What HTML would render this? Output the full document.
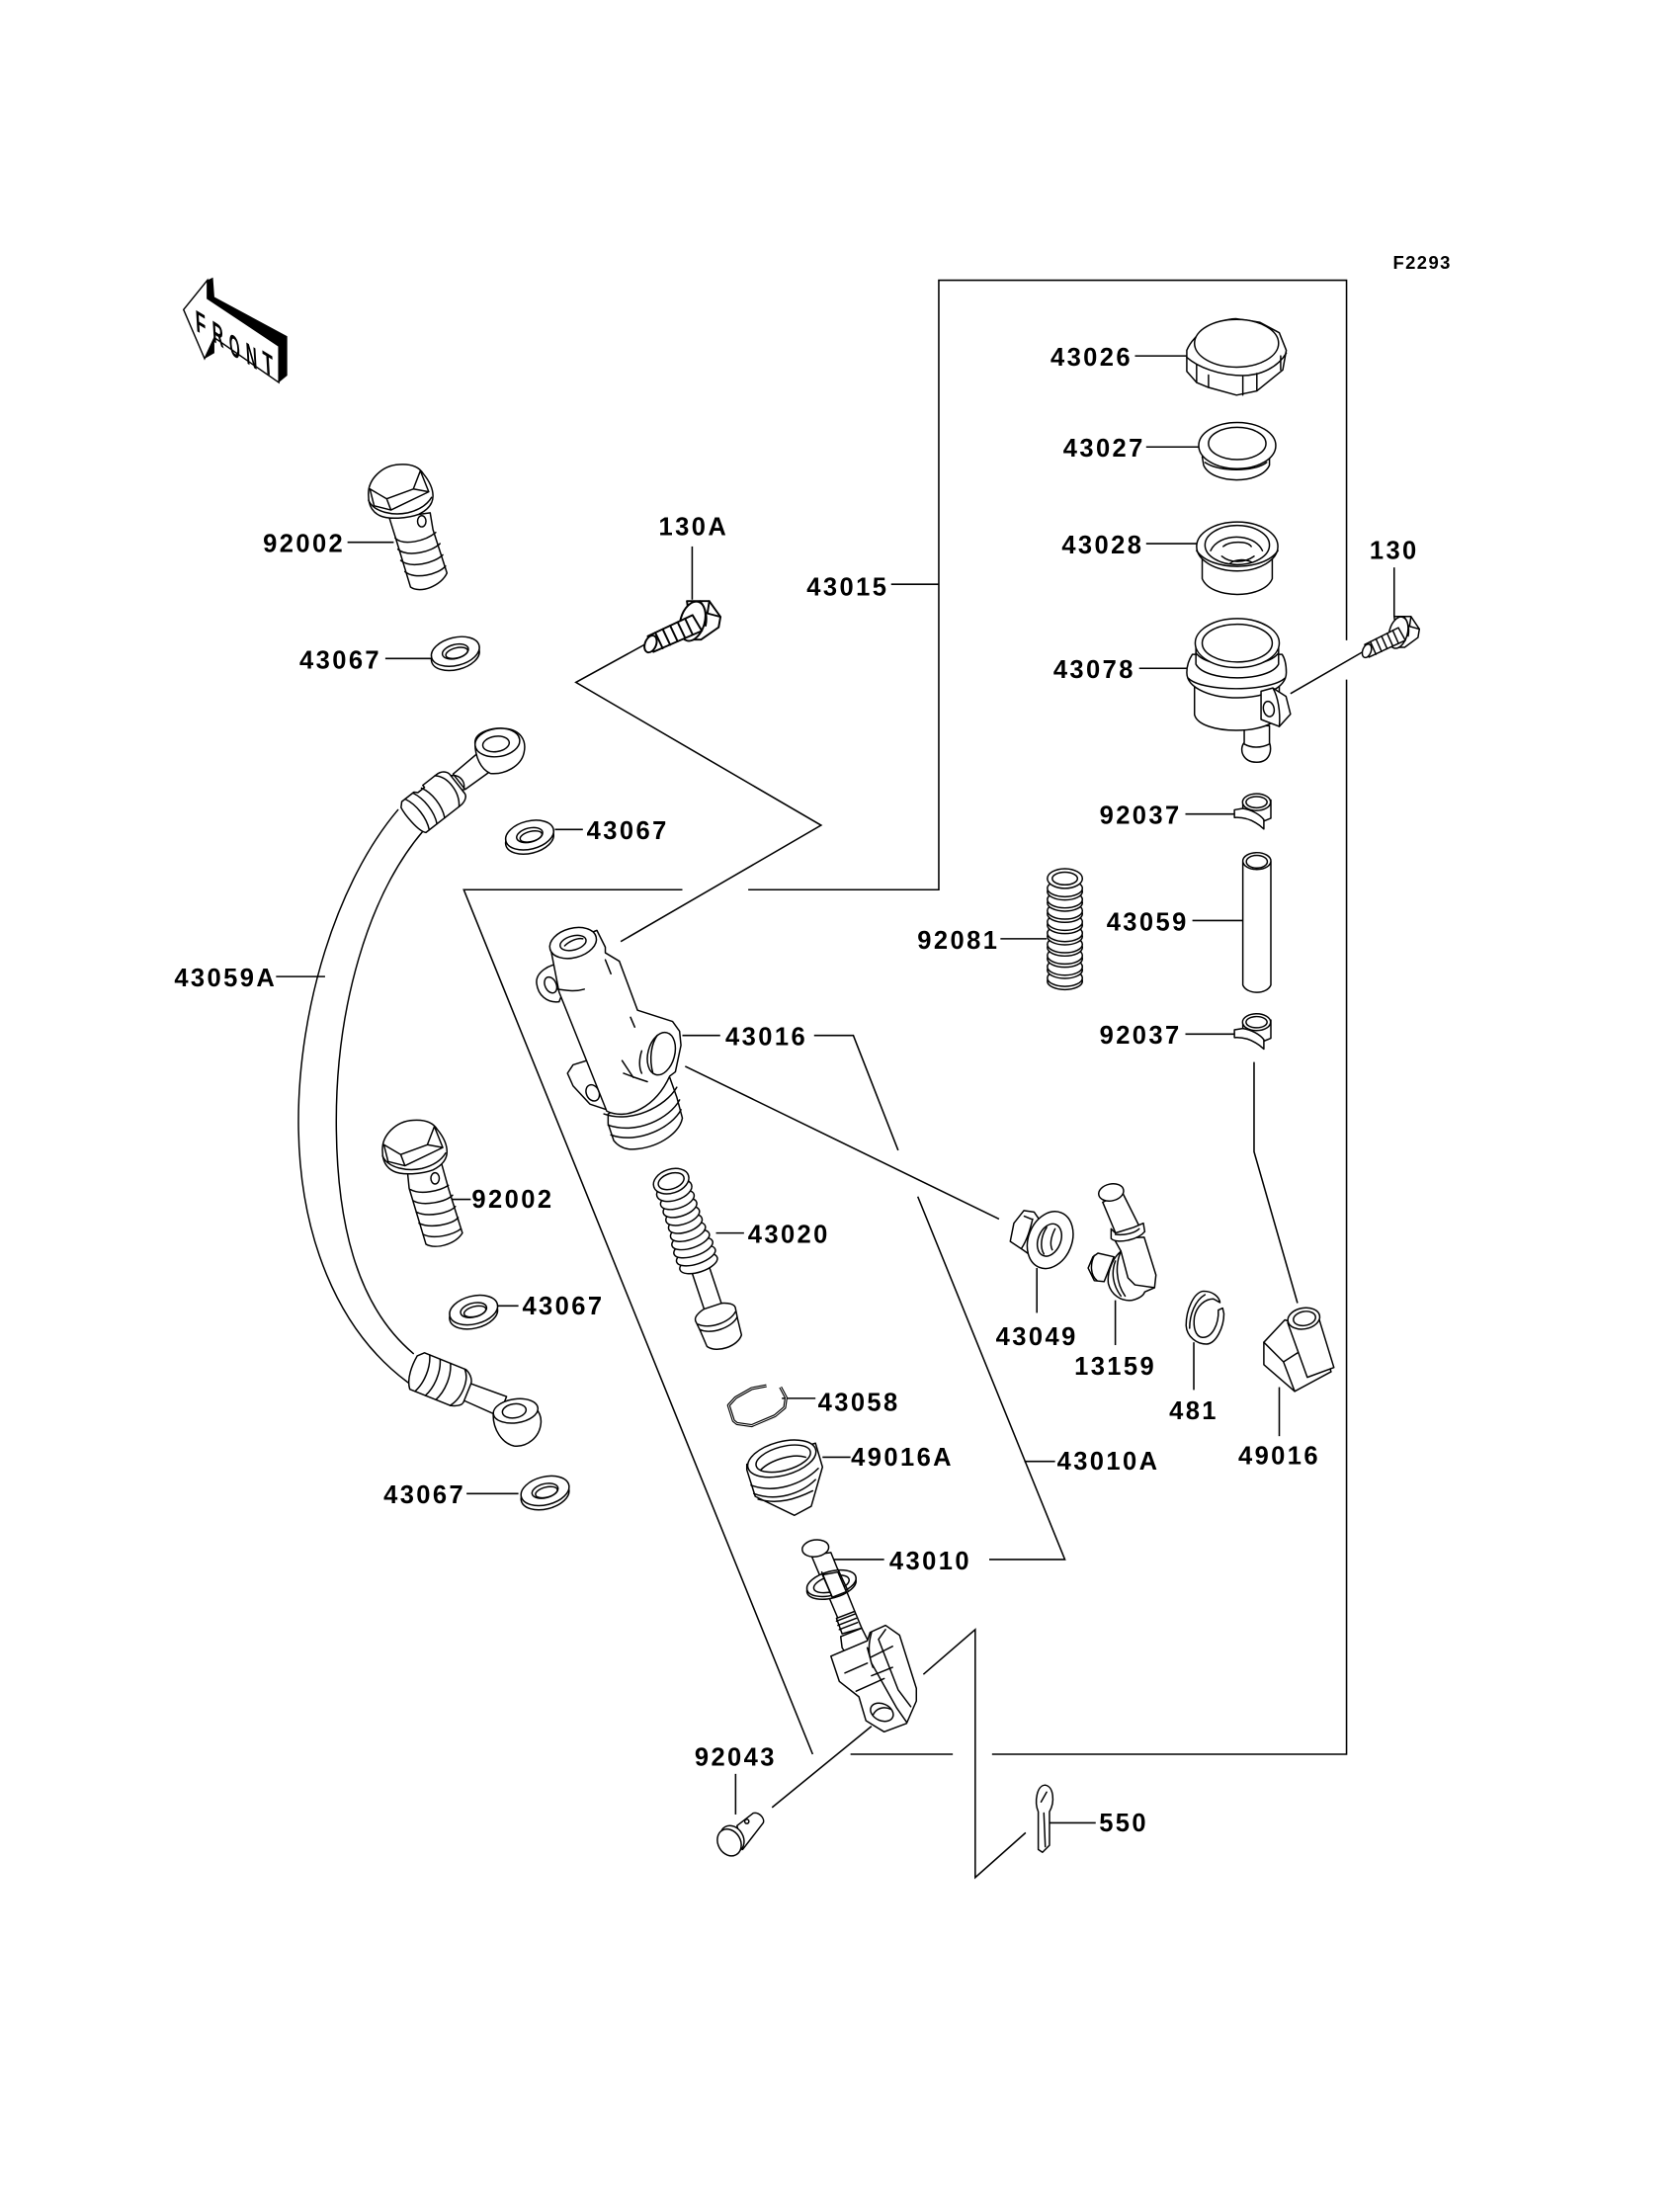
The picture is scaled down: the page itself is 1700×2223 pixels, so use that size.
<!DOCTYPE html>
<html><head><meta charset="utf-8"><style>
html,body{margin:0;padding:0;background:#fff;width:1700px;height:2223px;overflow:hidden}
svg{display:block}
.p *{fill:#fff;stroke:#000;stroke-width:1.05;stroke-linejoin:round;stroke-linecap:round}
.p .n{fill:none}
.l{fill:none;stroke:#000;stroke-width:1.1}
text{font-family:"Liberation Sans",sans-serif;font-weight:bold;font-size:18px;letter-spacing:1.7px;text-anchor:middle;fill:#000;stroke:none}
</style></head><body>
<svg width="1700" height="2223" viewBox="0 0 1199 1568" preserveAspectRatio="none" xmlns="http://www.w3.org/2000/svg">
<defs>
<g id="washer" class="p"><ellipse cx="0" cy="2" rx="17.5" ry="10" transform="rotate(-14 0 2)"/><ellipse cx="0" cy="-1" rx="17.5" ry="10" transform="rotate(-14 0 -1)"/><ellipse cx="0" cy="-1" rx="9.5" ry="5" transform="rotate(-14 0 -1)"/><ellipse class="n" cx="1" cy="0" rx="8" ry="3.6" transform="rotate(-14 1 0)"/></g>
<g id="head" class="p">
<path d="M-22,2C-23,-10 -12,-20 0,-20.5C8,-21 14,-19 17,-14C22,-8 24,-3 24,2C24,8 20,12 14,15C6,18 -8,19 -14,16C-20,13 -22,8 -22,2Z"/>
<path class="n" d="M-22,5C-18,14 -4,16 6,14C14,12 20,8 23,3"/>
<path class="n" d="M-21,-3L-9,4L10,-3L15,-16M-21,-3L-18,9L-6,12L21,-1L15,-16M-9,4L-6,12M10,-3L21,-1"/>
</g>
<g id="sbolt" class="p">
<path d="M22,-24L34,-24L40,-15L39,-9L29.5,-2L25,-2Z"/>
<path class="n" d="M29,-24C32,-20 33,-15 32,-10M34,-24L33,-17L40,-15"/>
<ellipse cx="25" cy="-12.5" rx="6.5" ry="11.5" transform="rotate(15 25 -12.5)"/>
<path d="M1,-4L25,-16L30,-7L4,5Z"/>
<path class="n" d="M5,-6L9,3M9,-8L13,1M13,-10L17,-1M17,-12L21,-3M21,-14L25,-5"/>
<ellipse cx="2.5" cy="0.5" rx="3" ry="5" transform="rotate(20 2.5 .5)"/>
</g>
<g id="clip" class="p">
<path d="M6,7V13L21,20L26,18V5Z"/>
<path d="M0,12L6,11C12,12 18,15 21,19V25.7C15,20 8,17 0,17.5Z"/>
<ellipse cx="15.8" cy="6.5" rx="10" ry="6"/>
<ellipse cx="15.8" cy="6.5" rx="7.5" ry="4"/>
</g>
<g id="coil" class="p"><ellipse cx="0" cy="2.3" rx="12.5" ry="6"/><ellipse cx="0" cy="0" rx="12.5" ry="6"/></g>
</defs>

<!-- leader and bracket lines -->
<g class="l">
<path d="M487,635H331L580,1252"/>
<path d="M534,635H670V200H961V457"/>
<path d="M961,485V1252H708"/>
<path d="M680,1252H607"/>
<path d="M636,417H670"/>
<path d="M462,459L411,487L586,589L443,672"/>
<path d="M494,390V428"/>
<path d="M995,405V440"/>
<path d="M973,465L921,495"/>
<path d="M487,739H514"/>
<path d="M581,739H609L641,821"/>
<path d="M655,854L760,1113H706"/>
<path d="M731,1043H753"/>
<path d="M593,1113H631"/>
<path d="M489,761L713,870"/>
<path d="M740,905V937"/>
<path d="M796,928V960"/>
<path d="M852,958V992"/>
<path d="M913,990V1025"/>
<path d="M895,758V822L926,930"/>
<path d="M846,581H882"/>
<path d="M846,738H881"/>
<path d="M851,657H887"/>
<path d="M714,670H747"/>
<path d="M810,254H848"/>
<path d="M818,319H856"/>
<path d="M818,388H854"/>
<path d="M813,477H848"/>
<path d="M248,387H281"/>
<path d="M275,470H308"/>
<path d="M396,592H416"/>
<path d="M197,697H232"/>
<path d="M318,856H336"/>
<path d="M345,932H370"/>
<path d="M333,1066H370"/>
<path d="M511,880H531"/>
<path d="M558,998H582"/>
<path d="M587,1040H607"/>
<path d="M525,1266V1295"/>
<path d="M551,1290L622,1232"/>
<path d="M659,1195L696,1163V1340L732,1308"/>
<path d="M748,1301H782"/>
</g>

<!-- FRONT arrow -->
<g>
<path d="M148,200L152,198L153,212L205,240V268L199,273V247L148,213Z" fill="#000"/>
<path d="M146,241L153,241L153,252L146,256Z" fill="#000"/>
<path d="M131,221L148,200V213L199,247V273L153,241L146,256Z" fill="#fff" stroke="#000" stroke-width="1"/>
<text transform="matrix(.55,.33,.06,1,140,236)" style="font-size:22px;letter-spacing:0;text-anchor:start">F</text>
<text transform="matrix(.5,.33,.06,1,152,243.5)" style="font-size:22px;letter-spacing:0;text-anchor:start">R</text>
<text transform="matrix(.45,.33,.06,1,164,252)" style="font-size:22px;letter-spacing:0;text-anchor:start">O</text>
<text transform="matrix(.5,.33,.06,1,176,259)" style="font-size:22px;letter-spacing:0;text-anchor:start">N</text>
<text transform="matrix(.55,.33,.06,1,188,265)" style="font-size:22px;letter-spacing:0;text-anchor:start">T</text>
</g>

<!-- 92002 top -->
<g class="p">
<path d="M278,370L283,386L293,419C300,424 315,418 319,409L309,378L307,366Z"/>
<path class="n" d="M282,384C288,390 304,386 311,380M284,392C291,398 308,394 314,388M286,400C293,406 310,402 316,396M289,408C296,414 313,410 318,404"/>
<ellipse cx="301" cy="372" rx="3" ry="4"/>
</g>
<use href="#head" x="285" y="352"/>
<use href="#washer" x="325" y="466"/>
<use href="#washer" x="378" y="597"/>
<use href="#washer" x="338" y="936"/>
<use href="#washer" x="389" y="1065"/>

<!-- hose -->
<g class="p">
<path class="n" d="M284,578C240,630 213,720 213,800C213,880 240,950 293,988"/>
<path class="n" d="M302,593C262,640 240,720 240,800C240,880 258,935 295,966"/>
<g transform="translate(293,585) rotate(-38)">
<path d="M44,-7L70,-8V8L44,7Z"/>
<path d="M0,-11L3,-14H14L16,-12H22V-14H34C40,-14 42,-10 42,-8V9C42,12 38,14 34,14H3C-1,10 -1,-6 0,-11Z"/>
<path class="n" d="M6,-14C10,-6 10,6 6,14M13,-14C17,-6 17,6 13,14M20,-13C24,-6 24,6 20,14M33,-14C40,-8 40,6 33,14M42,-7C48,-4 48,4 42,7"/>
</g>
<path d="M339,530C339,522 352,519 361,520C371,521 376,528 374,537C372,547 360,553 350,552C343,549 339,540 339,530Z"/>
<ellipse cx="355" cy="530" rx="16" ry="10" transform="rotate(-8 355 530)"/>
<ellipse cx="354" cy="531" rx="9.5" ry="5.5" transform="rotate(-8 354 531)"/>
<g transform="translate(294,977) rotate(22)">
<path d="M42,-6L70,-7V8L42,7Z"/>
<path d="M0,-10L4,-14H36C41,-12 43,-8 43,-6V8C43,11 39,13 35,14H4C-1,8 -1,-3 0,-10Z"/>
<path class="n" d="M8,-14C12,-6 12,6 8,14M16,-14C20,-6 20,6 16,14M24,-14C28,-6 28,6 24,14M35,-14C41,-8 41,6 35,14"/>
</g>
<path d="M352,1010C352,1003 361,999 371,999C380,1000 387,1008 386,1016C385,1026 376,1033 367,1032C358,1030 352,1020 352,1010Z"/>
<ellipse cx="368" cy="1007" rx="16" ry="8.5" transform="rotate(-8 368 1007)"/>
<ellipse cx="367" cy="1007" rx="8.5" ry="5" transform="rotate(-8 367 1007)"/>
</g>

<!-- 92002 lower -->
<g class="p">
<path d="M291,838L292,848L304,888C311,892 325,888 330,880L320,848L315,830Z"/>
<path class="n" d="M293,849C300,853 314,850 320,846M295,857C302,861 318,858 323,853M297,865C305,869 321,866 325,861M299,873C307,877 323,874 327,869M302,881C310,885 324,881 329,877"/>
<ellipse cx="310.5" cy="841" rx="3" ry="4"/>
</g>
<use href="#head" x="295" y="820"/>

<!-- 130A and 130 bolts -->
<use href="#sbolt" transform="translate(461,459) scale(1.33,1.25)"/>
<use href="#sbolt" transform="translate(973,464)"/>

<!-- master cylinder -->
<g class="p">
<path d="M409,760L405,766L409,775L421,788L433,792L440,780L425,755Z"/>
<ellipse cx="423" cy="780" rx="4.5" ry="6" transform="rotate(-25 423 780)"/>
<path d="M400,688C392,688 382,694 383,702C384,710 390,716 399,715L405,700Z"/>
<ellipse cx="393" cy="703" rx="4" ry="6" transform="rotate(-25 393 703)"/>
<path d="M434,802L438,814C442,819 448,821 455,820C472,818 485,808 487,798L483,783L478,769L434,795Z"/>
<path class="n" d="M431,795C450,802 475,790 483,776M434,803C455,810 478,798 485,785M436,810C456,817 480,804 486,792"/>
<path d="M393,677L399,708L433,793C448,800 468,790 478,768L482,765L486,746L485,736L480,729L455,721L442,686L432,680V676L426,664L393,677Z"/>
<path class="n" d="M453,769L462,772M445,766L453,769M444,757L452,769M450,726L453,733M398,706C405,707 410,708 417,706M432,685L436,695"/>
<ellipse cx="409" cy="673" rx="17" ry="10.5" transform="rotate(-15 409 673)"/>
<ellipse cx="409" cy="673" rx="9.5" ry="5" transform="rotate(-15 409 673)"/>
<path class="n" d="M403,675C406,672 412,669 416,670"/>
<ellipse cx="472" cy="752" rx="9.5" ry="15.5" transform="rotate(15 472 752)"/>
<path class="n" d="M469,739C465,745 463,755 466,766M458,750C456,756 456,762 458,766"/>
</g>

<!-- 43020 spring and plunger -->
<g class="p" transform="translate(479,843) rotate(-18.4)">
<rect x="-6.5" y="62" width="13" height="36"/>
<path d="M-15,100C-15,96 -7,94 -6,94H6C7,94 15,96 15,100L14,108L13,120C8,127 -8,127 -13,120L-14,108Z"/>
<path class="n" d="M-14,103C-8,109 8,109 14,103M-14,107C-8,113 8,113 14,107"/>
<ellipse cx="0" cy="62" rx="14" ry="6"/>
<ellipse cx="0" cy="56" rx="14.5" ry="6"/>
<ellipse cx="0" cy="50" rx="14.5" ry="6"/>
<ellipse cx="0" cy="44" rx="14" ry="6"/>
<ellipse cx="0" cy="38" rx="13" ry="6"/>
<ellipse cx="0" cy="32" rx="12.5" ry="6"/>
<ellipse cx="0" cy="26" rx="12.5" ry="6"/>
<ellipse cx="0" cy="20" rx="12.5" ry="6"/>
<ellipse cx="0" cy="14" rx="12.5" ry="6"/>
<ellipse cx="0" cy="7" rx="13" ry="7"/>
<ellipse cx="0" cy="0" rx="13" ry="8.5"/>
<ellipse cx="0" cy="0" rx="9.5" ry="5.5"/>
</g>

<!-- 43058 clip -->
<path d="M547,989L536.5,991L525,997.5L520,1003L523.5,1014L526,1016L536.5,1017.5L553,1010.5L560,1004.6L561,997.5L557,990" fill="none" stroke="#000" stroke-width="2.2" stroke-linejoin="round"/>
<path d="M547,989L536.5,991L525,997.5L520,1003L523.5,1014L526,1016L536.5,1017.5L553,1010.5L560,1004.6L561,997.5L557,990" fill="none" stroke="#fff" stroke-width=".6" stroke-linejoin="round"/>

<!-- 49016A boot -->
<g class="p">
<path d="M533,1049L539,1068L567,1081.5L579,1075L587,1047L582,1030L533,1045Z"/>
<path class="n" d="M536,1060C552,1066 572,1060 584,1048M538,1066C554,1072 572,1066 582,1056M541,1070C555,1074 568,1070 580,1064"/>
<ellipse cx="558" cy="1041" rx="25" ry="12" transform="rotate(-15 558 1041)"/>
<ellipse cx="559" cy="1041" rx="20" ry="8.5" transform="rotate(-15 559 1041)"/>
<path class="n" d="M543,1049C550,1042 566,1037 575,1040"/>
</g>

<!-- 43010 rod + clevis -->
<g class="p">
<path d="M579,1110L598,1155L610,1150L593,1108Z"/>
<ellipse cx="593.4" cy="1132" rx="18" ry="8.5" transform="rotate(-15 593.4 1132)"/>
<ellipse cx="593.4" cy="1130" rx="18" ry="8.5" transform="rotate(-15 593.4 1130)"/>
<ellipse cx="593.4" cy="1130.5" rx="13" ry="5.5" transform="rotate(-15 593.4 1130.5)"/>
<path d="M587,1124L594,1140L604,1136L598,1122Z" stroke="none"/>
<path class="n" d="M586.5,1122L594,1140M598,1120L605,1135"/>
<ellipse cx="582" cy="1105" rx="9.5" ry="6" transform="rotate(-8 582 1105)"/>
<path d="M597,1155L601,1166L615,1162L610,1150Z"/>
<path class="n" d="M597,1157L610,1152M598,1160L611,1155M599,1163L612,1158"/>
<path d="M600,1168L615,1162L620,1172L605,1182L601,1176Z"/>
<path d="M593,1182L619,1171L621,1165L632,1160L642,1167L654,1205L654,1214L647,1230L631,1236L618,1228L613,1211L599,1200Z"/>
<path class="n" d="M619,1176L622,1187L640,1219L647,1229M622,1165C620,1172 619,1180 623,1190M632,1163L627,1170L641,1206L650,1218M603,1194L619,1187M611,1207L631,1198M621,1183L637,1175M622,1196L637,1190"/>
<ellipse cx="629.4" cy="1222" rx="8.5" ry="6" transform="rotate(25 629.4 1222)"/>
<path class="n" d="M623,1224C626,1218 632,1218 636,1220"/>
</g>

<!-- 92043 pin -->
<g class="p">
<path d="M526,1303L537.6,1294C542,1293 546,1298 544.7,1301L530,1320Z"/>
<ellipse cx="533" cy="1300" rx="1.5" ry="1.5"/>
<ellipse cx="522.5" cy="1312.5" rx="8" ry="10" transform="rotate(-30 522.5 1312.5)"/>
<ellipse cx="520.5" cy="1315" rx="8" ry="10" transform="rotate(-30 520.5 1315)"/>
</g>

<!-- 550 cotter -->
<g class="p">
<path d="M741,1320V1293C738,1286 740,1274 746,1274C752,1275 753,1286 749,1293V1317L744,1322Z"/>
<path class="n" d="M745,1294L746,1318M743,1286L747,1279"/>
</g>

<!-- 43026 cap -->
<g class="p">
<path d="M847,250L847,265L854,273L862.5,276.5L882.5,282L897,279L915.5,264L918,250L913,237.5L899,230L882,227.5C868,228 852,238 847,250Z"/>
<path class="n" d="M847,255C855,262 870,268 887,268C900,268 912,262 918,252M854,260V273M862.5,267.7V276.5M887,269V282M897,266.5V279M914,254V264"/>
<ellipse cx="882.5" cy="245" rx="30" ry="17"/>
</g>
<!-- 43027 -->
<g class="p">
<path d="M858,326L859,332C865,346 900,346 906,332V326Z"/>
<path class="n" d="M860,330C870,337 895,337 904,330"/>
<ellipse cx="883" cy="318" rx="27.5" ry="16.5"/>
<ellipse cx="883" cy="316.5" rx="20.5" ry="11.5"/>
</g>
<!-- 43028 -->
<g class="p">
<path d="M858,398V413C864,428 902,428 908,413V398Z"/>
<ellipse cx="883" cy="390" rx="29" ry="17.5"/>
<ellipse cx="883" cy="389" rx="23" ry="14"/>
<path class="n" d="M854,393C864,408 902,408 912,393M864,393C870,380 895,380 901,393M872,397C878,402 888,402 895,397M873,390C878,386 890,386 893,390M878,402C882,399 888,399 893,401"/>
</g>
<!-- 43078 reservoir -->
<g class="p">
<path d="M888,518V530C884,535 887,544 897,544C906,544 908,536 906,530V518Z"/>
<path class="n" d="M888,531C893,534 900,534 906,531"/>
<path d="M852.5,490V510C856,525 908,525 913,510V490Z"/>
<path d="M847,480C847,474 849,470 851,467L915,467C917,470 918,474 918,480C918,492 900,498 883,498C866,498 847,492 847,480Z"/>
<path class="n" d="M848,484C858,494 906,494 917,484"/>
<path d="M853.5,459V474C860,487 906,487 912.5,474V459Z"/>
<path class="n" d="M853.5,466C862,478 904,478 912.5,466"/>
<ellipse cx="883" cy="459" rx="30" ry="17.5"/>
<ellipse cx="883" cy="459" rx="25" ry="13.5"/>
<path d="M900,493.3L908.4,491L917.8,497L921,509.7L913,518.5L900,513.5Z"/>
<path class="n" d="M908.4,491C912,497 914,508 913,518.5"/>
<ellipse cx="905.5" cy="506" rx="3.8" ry="5.5" transform="rotate(-12 905.5 506)"/>
</g>
<!-- 92037 clips -->
<use href="#clip" x="881" y="566"/>
<use href="#clip" x="881" y="723"/>
<!-- 43059 tube -->
<g class="p">
<path d="M887,615V703C890,710 904,710 907,703V615Z"/>
<ellipse cx="897" cy="614.5" rx="10" ry="6"/>
<ellipse cx="897" cy="615" rx="7.5" ry="4.5"/>
</g>
<!-- 92081 spring -->
<g>
<use href="#coil" x="760" y="698"/><use href="#coil" x="760" y="690"/><use href="#coil" x="760" y="682"/><use href="#coil" x="760" y="674"/><use href="#coil" x="760" y="666"/><use href="#coil" x="760" y="658"/><use href="#coil" x="760" y="650"/><use href="#coil" x="760" y="642"/><use href="#coil" x="760" y="634"/>
<g class="p"><ellipse cx="760" cy="627" rx="12.5" ry="7"/><ellipse cx="760" cy="627" rx="9" ry="4.5"/></g>
</g>
<!-- 43049 grommet -->
<g class="p">
<path d="M721,886L723.6,873L730.7,864L738,865L747,878L737,897L730,892Z"/>
<path class="n" d="M731,868L736,870M729,891C733,885 735,878 737,870"/>
<ellipse cx="749.5" cy="885" rx="15.5" ry="21" transform="rotate(22 749.5 885)"/>
<ellipse cx="749" cy="885" rx="8" ry="12" transform="rotate(22 749 885)"/>
<path class="n" d="M747,876C743,882 742,890 745,895M753,877C750,883 749,888 751,892"/>
</g>
<!-- 13159 fitting -->
<g class="p">
<path d="M776.6,905L780,897L783.6,894.4L795,897L788,914.7L781,914Z"/>
<path class="n" d="M781,896C778,902 778,910 783,914"/>
<path d="M795,884L800,893C794,898 790,908 791,916C793,924 800,929 808,928C812,927 816,925 817,922L824,919L825,910L816.6,883Z"/>
<path class="n" d="M800,893C796,902 796,915 803,925M800,893L805,912L810,917L824,919M796,900C793,908 794,917 800,925"/>
<path d="M787,858L796.6,881L814,877L801,851Z"/>
<path d="M793,877L793,884C797,888 812,885 817,879L816,873L809,876L796,880Z"/>
<path class="n" d="M796,881C802,882 810,880 813,877"/>
<ellipse cx="793" cy="851" rx="9" ry="6" transform="rotate(-12 793 851)"/>
</g>
<!-- 481 circlip -->
<g class="p">
<path d="M870.7,929.6C870,925 865,921.5 859,921.5C852,922 846.5,935 846.5,946C847,954 854,959.3 861,959.3C868,959 873.5,947 873.5,937.6L872.6,933.6L869.5,935C870,945 865,955 858,954.5C853,954 851.5,947 852.4,940C854,932 860,927 866,927Z"/>
<path class="n" d="M849,948C849,938 853,928 860,924"/>
</g>
<!-- 49016 block -->
<g class="p">
<path d="M917,942L902,958L902,974L924,993L950,979L940,950Z"/>
<path class="n" d="M902,958L916,972L924,993M916,972L930,963"/>
<path d="M919,944L933,983L952,976L941,940Z"/>
<ellipse cx="930.5" cy="941" rx="11.5" ry="7.5" transform="rotate(-10 930.5 941)"/>
<ellipse cx="931" cy="941" rx="8" ry="5" transform="rotate(-10 931 941)"/>
</g>

<!-- labels -->
<text x="1015" y="192" style="font-size:13px;letter-spacing:1px">F2293</text>
<text x="779" y="261">43026</text>
<text x="788" y="326">43027</text>
<text x="787" y="395">43028</text>
<text x="781" y="484">43078</text>
<text x="995" y="399">130</text>
<text x="495" y="382">130A</text>
<text x="217" y="394">92002</text>
<text x="243" y="477">43067</text>
<text x="605" y="425">43015</text>
<text x="814" y="588">92037</text>
<text x="684" y="677">92081</text>
<text x="819" y="664">43059</text>
<text x="814" y="745">92037</text>
<text x="448" y="599">43067</text>
<text x="161" y="704">43059A</text>
<text x="547" y="746">43016</text>
<text x="563" y="887">43020</text>
<text x="366" y="862">92002</text>
<text x="402" y="938">43067</text>
<text x="740" y="960">43049</text>
<text x="796" y="981">13159</text>
<text x="852" y="1013">481</text>
<text x="913" y="1045">49016</text>
<text x="613" y="1007">43058</text>
<text x="644" y="1046">49016A</text>
<text x="791" y="1049">43010A</text>
<text x="303" y="1073">43067</text>
<text x="664" y="1120">43010</text>
<text x="525" y="1260">92043</text>
<text x="802" y="1307">550</text>
</svg>
</body></html>
